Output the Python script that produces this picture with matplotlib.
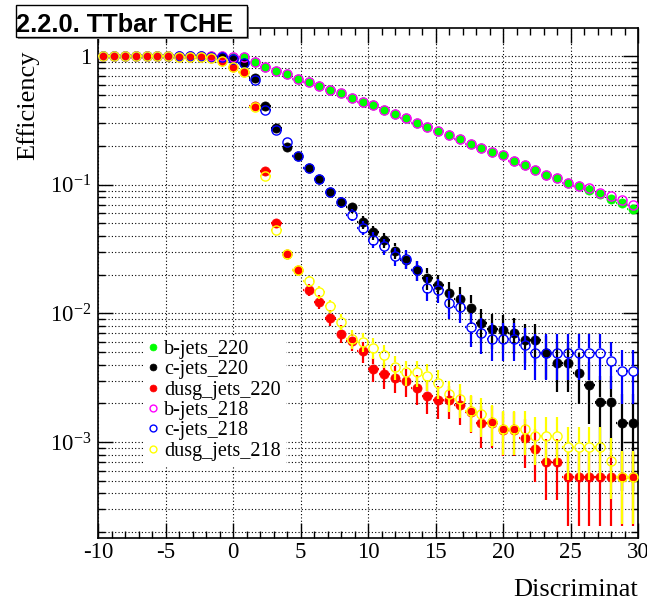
import numpy as np
import matplotlib
matplotlib.use('Agg')
import matplotlib.pyplot as plt
from matplotlib.collections import LineCollection
from matplotlib.patches import Rectangle
from matplotlib.ticker import FixedLocator, NullFormatter, MultipleLocator, LogLocator

plt.rcParams['font.family'] = ['Liberation Serif', 'DejaVu Serif']
plt.rcParams['mathtext.fontset'] = 'custom'
plt.rcParams['mathtext.rm'] = 'Liberation Serif'
plt.rcParams['mathtext.it'] = 'Liberation Serif:italic'
plt.rcParams['mathtext.bf'] = 'Liberation Serif:bold'

# ---------------- data ----------------
bin_edges = np.linspace(-10, 30, 51)

b_jets_220 = [1.0, 1.0, 1.0, 1.0, 1.0, 1.0, 1.0, 1.0, 1.0, 0.999, 0.998, 0.995,
              0.988, 0.977, 0.903, 0.826, 0.765, 0.722, 0.663, 0.626, 0.585, 0.545,
              0.514, 0.474, 0.442, 0.415, 0.381, 0.355, 0.329, 0.304, 0.280, 0.262,
              0.243, 0.225, 0.208, 0.194, 0.181, 0.169, 0.154, 0.143, 0.130, 0.120,
              0.112, 0.103, 0.0983, 0.0903, 0.0841, 0.0775, 0.0721, 0.0648]
b_jets_218 = [1.0, 1.0, 1.0, 1.0, 1.0, 1.0, 1.0, 1.0, 1.0, 0.999, 0.998, 0.995,
              0.988, 0.977, 0.903, 0.826, 0.765, 0.722, 0.663, 0.626, 0.585, 0.545,
              0.514, 0.474, 0.442, 0.415, 0.381, 0.355, 0.329, 0.304, 0.280, 0.262,
              0.243, 0.225, 0.208, 0.194, 0.181, 0.169, 0.154, 0.143, 0.130, 0.120,
              0.112, 0.103, 0.0983, 0.0936, 0.0865, 0.0812, 0.0756, 0.070]

c_jets_220 = [1.0, 1.0, 1.0, 1.0, 1.0, 0.999, 0.999, 0.998, 0.997, 0.995, 0.99, 0.975,
              0.95, 0.88, 0.679, 0.41, 0.278, 0.198, 0.166, 0.136, 0.110, 0.0873,
              0.0731, 0.0671, 0.051, 0.0427, 0.037, 0.0308, 0.0262, 0.0217, 0.0189,
              0.0165, 0.0143, 0.0130, 0.0111, 0.00836, 0.0076, 0.0075, 0.0070, 0.0062,
              0.0062, 0.0049, 0.00415, 0.00415, 0.00347, 0.00278, 0.00205, 0.00205,
              0.0014, 0.0014]
c_jets_220_err = [0, 0, 0, 0, 0, 0, 0, 0, 0, 0, 0, 0,
                  0.0058, 0.0085, 0.0123, 0.0129, 0.0118, 0.0105, 0.0098, 0.0090,
                  0.0082, 0.0074, 0.0068, 0.0066, 0.0058, 0.0053, 0.0049, 0.0045,
                  0.0042, 0.0038, 0.0036, 0.0034, 0.0031, 0.0030, 0.0028, 0.0024,
                  0.0023, 0.0023, 0.0022, 0.0021, 0.0021, 0.0018, 0.0017, 0.0017,
                  0.0015, 0.0014, 0.0012, 0.0012, 0.00098, 0.00098]

c_jets_218 = [1.0, 1.0, 1.0, 1.0, 1.0, 0.999, 0.999, 0.998, 0.997, 0.995, 0.99, 0.975,
              0.95, 0.875, 0.652, 0.381, 0.267, 0.213, 0.166, 0.136, 0.111, 0.0873,
              0.0731, 0.0585, 0.0463, 0.0375, 0.0332, 0.0278, 0.0266, 0.0217, 0.0158,
              0.0153, 0.0120, 0.0113, 0.00783, 0.0070, 0.00637, 0.00637, 0.00637,
              0.00565, 0.00496, 0.00496, 0.00496, 0.00496, 0.00496, 0.00496, 0.00496,
              0.00427, 0.00357, 0.00357]
c_jets_218_err = [0, 0, 0, 0, 0, 0, 0, 0, 0, 0, 0, 0,
                  0.0058, 0.0087, 0.0127, 0.0129, 0.0118, 0.0109, 0.0099, 0.0091,
                  0.0084, 0.0075, 0.0069, 0.0063, 0.0056, 0.0051, 0.0048, 0.0044,
                  0.0043, 0.0039, 0.0033, 0.0033, 0.0029, 0.0028, 0.0023, 0.0022,
                  0.0021, 0.0021, 0.0021, 0.0020, 0.0019, 0.0019, 0.0019, 0.0019,
                  0.0019, 0.0019, 0.0019, 0.0017, 0.0016, 0.0016]

dusg_jets_220 = [0.995, 0.995, 0.995, 0.994, 0.994, 0.993, 0.992, 0.99, 0.988, 0.985,
                 0.97, 0.92, 0.826, 0.756, 0.41, 0.127, 0.0508, 0.029, 0.0216, 0.0153,
                 0.0123, 0.00926, 0.00696, 0.0061, 0.0051, 0.00372, 0.00337, 0.00317,
                 0.00299, 0.00265, 0.00229, 0.00212, 0.00212, 0.00194, 0.00172, 0.0014,
                 0.0014, 0.00125, 0.00125, 0.00107, 0.00088, 0.000703, 0.000703,
                 0.000532, 0.000532, 0.000532, 0.000532, 0.000532, 0.000532, 0.000532]
dusg_jets_220_err = [0, 0, 0, 0, 0, 0, 0, 0, 0, 0,
                     0.0023, 0.0036, 0.0050, 0.0057, 0.0065, 0.0044, 0.0029, 0.0022,
                     0.0019, 0.0016, 0.0015, 0.0013, 0.0011, 0.0010, 0.00095, 0.00081,
                     0.00077, 0.00075, 0.00073, 0.00069, 0.00064, 0.00061, 0.00061,
                     0.00059, 0.00055, 0.00050, 0.00050, 0.00047, 0.00047, 0.00044,
                     0.00039, 0.00035, 0.00035, 0.00031, 0.00031, 0.00031, 0.00031,
                     0.00031, 0.00031, 0.00031]

dusg_jets_218 = [0.995, 0.995, 0.995, 0.994, 0.994, 0.993, 0.992, 0.99, 0.987, 0.983,
                 0.965, 0.91, 0.82, 0.75, 0.40, 0.116, 0.0441, 0.029, 0.0216, 0.0178,
                 0.0146, 0.0114, 0.00863, 0.00637, 0.0060, 0.00542, 0.00472, 0.00386,
                 0.00351, 0.00348, 0.00327, 0.0029, 0.00236, 0.00218, 0.00176, 0.00165,
                 0.00144, 0.00127, 0.00127, 0.00127, 0.00111, 0.00111, 0.00111, 0.00091,
                 0.00091, 0.00091, 0.00091, 0.00072, 0.00054, 0.00054]
dusg_jets_218_err = [0, 0, 0, 0, 0, 0, 0, 0, 0, 0,
                     0.0025, 0.0038, 0.0052, 0.0058, 0.0066, 0.0043, 0.0028, 0.0023,
                     0.0019, 0.0018, 0.0016, 0.0014, 0.0012, 0.0011, 0.0010, 0.00099,
                     0.00092, 0.00083, 0.00079, 0.00079, 0.00077, 0.00072, 0.00065,
                     0.00063, 0.00056, 0.00055, 0.00051, 0.00048, 0.00048, 0.00048,
                     0.00045, 0.00045, 0.00045, 0.00040, 0.00040, 0.00040, 0.00040,
                     0.00036, 0.00031, 0.00031]

series = [
    ("b-jets_220", b_jets_220, None, '#00ff00', True),
    ("c-jets_220", c_jets_220, c_jets_220_err, 'black', True),
    ("dusg_jets_220", dusg_jets_220, dusg_jets_220_err, '#ff0000', True),
    ("b-jets_218", b_jets_218, None, '#ff00ff', False),
    ("c-jets_218", c_jets_218, c_jets_218_err, '#0000ff', False),
    ("dusg_jets_218", dusg_jets_218, dusg_jets_218_err, '#ffff00', False),
]

title_text = "2.2.0. TTbar TCHE"
x_title = "Discriminat"
y_title = "Efficiency"

# ---------------- figure ----------------
W, H = 647, 600
fig = plt.figure(figsize=(W / 100, H / 100), dpi=100)
ax = fig.add_axes([98 / W, 1 - 538 / H, (638 - 98) / W, (538 - 28) / H])
ax.set_xlim(-10, 30)
ax.set_yscale('log')
ax.set_ylim(1.8e-4, 1.65)

ax.xaxis.set_major_locator(MultipleLocator(5))
ax.xaxis.set_minor_locator(MultipleLocator(1))
ax.yaxis.set_major_locator(FixedLocator([1e-3, 1e-2, 1e-1, 1.0]))
ax.yaxis.set_minor_locator(LogLocator(base=10, subs=np.arange(2, 10), numticks=20))
ax.yaxis.set_minor_formatter(NullFormatter())
ax.set_yticklabels([r'$10^{-3}$', r'$10^{-2}$', r'$10^{-1}$', '1'])
ax.set_xticks([-10, -5, 0, 5, 10, 15, 20, 25, 30])
ax.set_xticklabels(['-10', '-5', '0', '5', '10', '15', '20', '25', '30'])

ax.tick_params(which='both', direction='in', top=True, right=True,
               labelsize=16.5, width=1.0, color='black')
ax.tick_params(which='major', length=11)
ax.tick_params(which='minor', length=5)
ax.tick_params(axis='x', which='major', pad=3)
ax.tick_params(axis='y', which='major', pad=5)
for sp in ax.spines.values():
    sp.set_linewidth(1.2)

gkw = dict(color='black', linestyle=(0, (1, 2)), linewidth=0.8)
ax.grid(True, which='major', axis='both', **gkw)
ax.grid(True, which='minor', axis='y', **gkw)
ax.set_axisbelow(True)

centers = 0.5 * (bin_edges[:-1] + bin_edges[1:])
halfw = 0.5 * (bin_edges[1:] - bin_edges[:-1])

ms_pt = 6.6
r_px = ms_pt / 72 * 100 / 2
handles = []
for i, (lab, vals, errs, col, filled) in enumerate(series):
    vals = np.asarray(vals, float)
    z = 3 + 2 * i
    inv = ax.transData.inverted()
    segs = []
    for j in range(len(vals)):
        xi, yi = centers[j], vals[j]
        px, py = ax.transData.transform((xi, yi))
        xr = ax.transData.transform((xi + halfw[j], yi))[0]
        if xr > px + r_px:
            a = inv.transform((px + r_px, py))
            segs.append([(a[0], yi), (xi + halfw[j], yi)])
            b = inv.transform((px - r_px, py))
            segs.append([(b[0], yi), (xi - halfw[j], yi)])
        if errs is not None and errs[j] > 0:
            e = errs[j]
            top = ax.transData.transform((xi, yi + e))[1]
            if top > py + r_px:
                a = inv.transform((px, py + r_px))
                segs.append([(xi, a[1]), (xi, yi + e)])
            lo = max(yi - e, 1e-7)
            bot = ax.transData.transform((xi, lo))[1]
            if bot < py - r_px:
                b = inv.transform((px, py - r_px))
                segs.append([(xi, b[1]), (xi, lo)])
    lc = LineCollection(segs, colors=col, linewidths=1.6, zorder=z)
    ax.add_collection(lc)
    if filled:
        h, = ax.plot(centers, vals, 'o', ms=ms_pt, mfc=col, mec=col, mew=0.5,
                     ls='none', zorder=z + 1, label=lab)
    else:
        h, = ax.plot(centers, vals, 'o', ms=ms_pt, mfc='none', mec=col, mew=1.0,
                     ls='none', zorder=z + 1, label=lab)
    handles.append(h)

leg = ax.legend(handles=handles, loc='upper left',
                bbox_to_anchor=((145 - 98) / 540, 1 - (336 - 28) / 510),
                borderaxespad=0, frameon=True, fancybox=False, framealpha=1,
                facecolor='white', edgecolor='white', fontsize=14.5,
                handlelength=0.4, handletextpad=0.35, labelspacing=0.06,
                borderpad=0.2, markerscale=0.75)
leg.set_zorder(20)

# axis titles
fig.text(638 / W, 1 - 596 / H, x_title, ha='right', va='baseline', fontsize=19)
fig.text(28 / W, 1 - 50 / H, y_title, ha='center', va='top', rotation=90, fontsize=19)

# title box
shadow = Rectangle((18 / W, 1 - 39 / H), (247 - 16) / W, (37 - 5) / H,
                   transform=fig.transFigure, facecolor='#888888', edgecolor='none',
                   zorder=30)
box = Rectangle((16 / W, 1 - 37 / H), (247 - 16) / W, (37 - 5) / H,
                transform=fig.transFigure, facecolor='white', edgecolor='black',
                linewidth=1.0, zorder=31)
fig.add_artist(shadow)
fig.add_artist(box)
t = fig.text(233 / W, 1 - 31.5 / H, title_text, ha='right', va='baseline',
             fontsize=18.3, fontweight='bold', family=['Liberation Sans', 'DejaVu Sans'],
             zorder=32)
t.set_clip_path(box)

fig.savefig('out.png', dpi=100)
